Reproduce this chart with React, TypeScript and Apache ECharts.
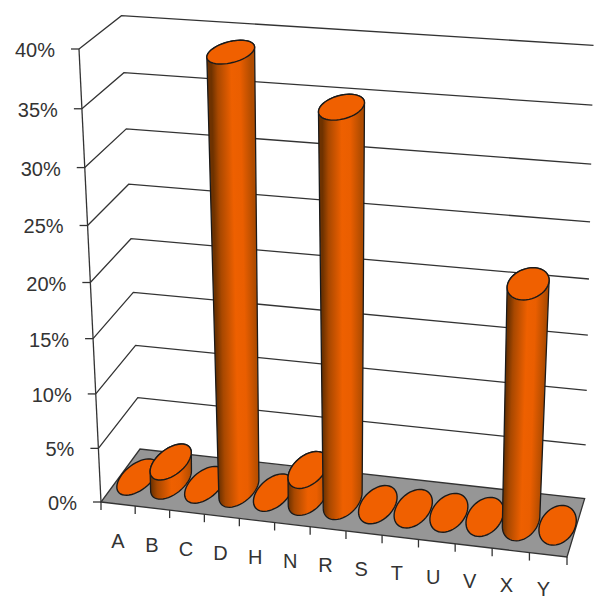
import React, { useEffect, useRef } from "react";
import * as echarts from "echarts";

const categories = ["A", "B", "C", "D", "H", "N", "R", "S", "T", "U", "V", "X", "Y"];
const seriesValues = [0, 1.8, 0, 39, 0, 2.5, 35, 0, 0, 0, 0, 21.2, 0];
const valueTicks = [0, 5, 10, 15, 20, 25, 30, 35, 40];

const WIDTH = 594;
const HEIGHT = 599;
const ORANGE = "#F06000";
const FONT = '20px "Liberation Sans", Arial, sans-serif';

// Projective camera, fixed by the corners of the 3D box
const O = [101, 502];
const Eu = [567, 557];
const Ev = [79, 49];
const Ew = [140, 449];
const p = -0.05, q = -0.06, r = 0.05;
const a = [Eu[0] * (1 + p) - O[0], Eu[1] * (1 + p) - O[1]];
const b = [Ev[0] * (1 + q) - O[0], Ev[1] * (1 + q) - O[1]];
const c = [Ew[0] * (1 + r) - O[0], Ew[1] * (1 + r) - O[1]];
function project(u: number, v: number, w: number): number[] {
  const d = 1 + p * u + q * v + r * w;
  return [
    (O[0] + a[0] * u + b[0] * v + c[0] * w) / d,
    (O[1] + a[1] * u + b[1] * v + c[1] * w) / d,
  ];
}
const toUV = (pt: number[]) => [pt[0] / WIDTH, (HEIGHT - pt[1]) / HEIGHT];

const RU = 0.48 / categories.length;
const RW = 0.34;
const WC = 0.5;

// Columns lean slightly less than the box edges in the reference
function columnPoint(u: number, v: number, w: number): number[] {
  const pt = project(u, v, w);
  return [pt[0] + 4.5 * Math.min(1, 2 * v), pt[1]];
}

function ring(u: number, v: number): number[][] {
  const pts: number[][] = [];
  const ru = RU * (1 + 0.18 * v);
  for (let i = 0; i < 48; i++) {
    const t = (i / 48) * Math.PI * 2;
    pts.push(columnPoint(u + ru * Math.cos(t), v, WC + RW * Math.sin(t)));
  }
  return pts;
}
function hull(points: number[][]): number[][] {
  const s = points.slice().sort((m, n) => m[0] - n[0] || m[1] - n[1]);
  const cross = (o: number[], m: number[], n: number[]) =>
    (m[0] - o[0]) * (n[1] - o[1]) - (m[1] - o[1]) * (n[0] - o[0]);
  const lo: number[][] = [];
  for (const pt of s) {
    while (lo.length >= 2 && cross(lo[lo.length - 2], lo[lo.length - 1], pt) <= 0) lo.pop();
    lo.push(pt);
  }
  const up: number[][] = [];
  for (let i = s.length - 1; i >= 0; i--) {
    const pt = s[i];
    while (up.length >= 2 && cross(up[up.length - 2], up[up.length - 1], pt) <= 0) up.pop();
    up.push(pt);
  }
  return lo.slice(0, -1).concat(up.slice(0, -1));
}

function renderWall(_: any, api: any) {
  const v = api.value(1) as number;
  const [, nv] = toUV(api.coord([0, v]));
  const front = project(0, nv, 0);
  const children: any[] = [
    {
      type: "line",
      shape: { x1: front[0] - 8, y1: front[1], x2: front[0], y2: front[1] },
      style: { stroke: "#333", lineWidth: 1.3 },
    },
    {
      type: "text",
      style: {
        text: `${v}%`,
        x: front[0] - 24,
        y: front[1] + 1,
        align: "right",
        verticalAlign: "middle",
        textAlign: "right",
        textVerticalAlign: "middle",
        font: FONT,
        fill: "#333",
      },
    },
  ];
  if (v > 0) {
    children.unshift({
      type: "polyline",
      shape: { points: [front, project(0, nv, 1), project(1, nv, 1)] },
      style: { stroke: "#333", lineWidth: 1.3, fill: "none" },
    });
  }
  return { type: "group", children };
}

function renderFloor(params: any, api: any) {
  const i = api.value(0) as number;
  const n = categories.length;
  const [uc] = toUV(api.coord([i, 0]));
  const start = project(uc + 0.5 / n, 0, 0);
  const children: any[] = [
    {
      type: "line",
      shape: { x1: start[0], y1: start[1], x2: start[0], y2: start[1] + 8 },
      style: { stroke: "#333", lineWidth: 1.3 },
    },
    {
      type: "text",
      style: {
        text: categories[i],
        x: project(uc, 0, 0)[0] - 5 * uc,
        y: project(uc, 0, 0)[1] + 37 - 2.5 * uc,
        align: "center",
        verticalAlign: "middle",
        textAlign: "center",
        textVerticalAlign: "middle",
        font: FONT,
        fill: "#333",
      },
    },
  ];
  if (i === 0) {
    const s0 = project(0, 0, 0);
    children.unshift(
      {
        type: "polygon",
        shape: { points: [s0, project(1, 0, 0), project(1, 0, 1), project(0, 0, 1)] },
        style: { fill: "#969696", stroke: "#333", lineWidth: 1.3 },
      },
      {
        type: "line",
        shape: { x1: s0[0], y1: s0[1], x2: s0[0], y2: s0[1] + 8 },
        style: { stroke: "#333", lineWidth: 1.3 },
      },
      {
        type: "line",
        shape: { x1: s0[0], y1: s0[1], x2: project(0, 1, 0)[0], y2: project(0, 1, 0)[1] },
        style: { stroke: "#333", lineWidth: 1.3 },
      }
    );
  }
  return { type: "group", children };
}

function renderColumn(_: any, api: any) {
  const i = api.value(0) as number;
  const val = api.value(1) as number;
  const [uc] = toUV(api.coord([i, 0]));
  const [, nv] = toUV(api.coord([i, val]));
  const top = ring(uc, nv);
  const children: any[] = [];
  if (val > 0) {
    const bottom = ring(uc, 0);
    const ctB = columnPoint(uc, 0, WC);
    const ctT = columnPoint(uc, nv, WC);
    const ax = [ctT[0] - ctB[0], ctT[1] - ctB[1]];
    const len = Math.hypot(ax[0], ax[1]) || 1;
    const perp = [-ax[1] / len, ax[0] / len];
    const sign = perp[0] < 0 ? -1 : 1;
    const hw = Math.max(...bottom.map((pt) => pt[0])) - ctB[0];
    const x0 = ctB[0] - sign * perp[0] * hw;
    const y0 = ctB[1] - sign * perp[1] * hw;
    const x1 = ctB[0] + sign * perp[0] * hw;
    const y1 = ctB[1] + sign * perp[1] * hw;
    children.push({
      type: "polygon",
      shape: { points: hull(bottom.concat(top)) },
      style: {
        stroke: "#1a1a1a",
        lineWidth: 1.3,
        fill: new echarts.graphic.LinearGradient(
          x0, y0, x1, y1,
          [
            { offset: 0, color: "#6E3200" },
            { offset: 0.15, color: "#A84800" },
            { offset: 0.5, color: "#EE6000" },
            { offset: 0.72, color: "#EA5E00" },
            { offset: 1, color: "#B04C00" },
          ],
          true
        ),
      },
    });
  }
  children.push({
    type: "polygon",
    shape: { points: top },
    style: { fill: ORANGE, stroke: "#1a1a1a", lineWidth: 1.4 },
  });
  return { type: "group", children };
}

const catIdx = categories.map((_, i) => i);
const columnData = catIdx
  .map((i) => [i, seriesValues[i]])
  .sort((m, n) => m[1] - n[1]);

export default function App() {
  const ref = useRef<HTMLDivElement>(null);
  useEffect(() => {
    const chart = echarts.init(ref.current!, undefined, { renderer: "svg" });
    chart.setOption({
      animation: false,
      backgroundColor: "#fff",
      grid: { left: 0, top: 0, width: WIDTH, height: HEIGHT },
      xAxis: { type: "category", data: categories, show: false },
      yAxis: { type: "value", min: 0, max: 40, interval: 5, show: false },
      series: [
        {
          type: "custom",
          z: 1,
          silent: true,
          data: valueTicks.map((v) => [0, v]),
          renderItem: renderWall,
          encode: { x: 0, y: 1 },
        },
        {
          type: "custom",
          z: 2,
          silent: true,
          data: catIdx.map((i) => [i, 0]),
          renderItem: renderFloor,
          encode: { x: 0, y: 1 },
        },
        {
          type: "custom",
          z: 3,
          silent: true,
          data: columnData,
          renderItem: renderColumn,
          encode: { x: 0, y: 1 },
        },
      ],
    });
    return () => chart.dispose();
  }, []);
  return (
    <div
      ref={ref}
      style={{ position: "fixed", left: 0, top: 0, width: WIDTH, height: HEIGHT }}
    />
  );
}
